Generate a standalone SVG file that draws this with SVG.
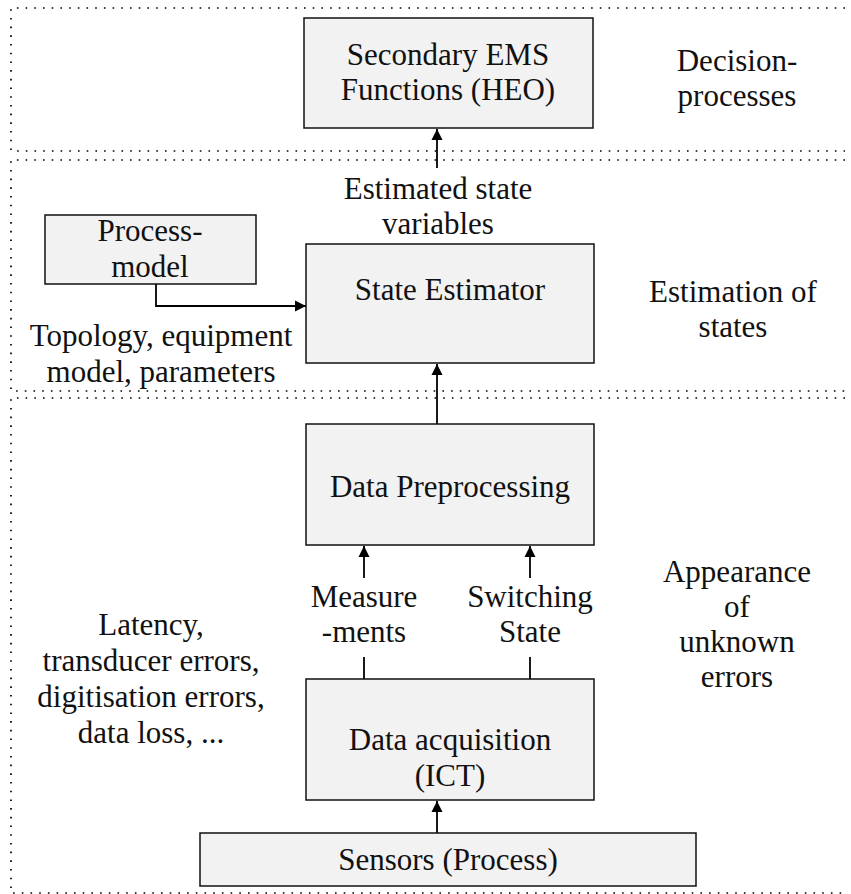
<svg xmlns="http://www.w3.org/2000/svg" width="851" height="894" viewBox="0 0 851 894" font-family="Liberation Serif, Times New Roman, serif">
<style>
.zone{fill:none;stroke:#000;stroke-width:1.7;stroke-dasharray:1.6 7.1}
.box{fill:#f2f2f2;stroke:#111;stroke-width:1.5}
text{font-family:'Liberation Serif',serif;font-size:31px;fill:#111;text-anchor:middle}
.c{fill:none;stroke:#000;stroke-width:1.8}
</style>
<defs>
<marker id="ah" markerWidth="12" markerHeight="12" refX="11" refY="6" orient="auto" markerUnits="userSpaceOnUse">
<path d="M0,0.5 L11,6 L0,11.5 Z" fill="#000"/>
</marker>
</defs>
<g id="zones">
<path class="zone" d="M845,8 H11 V151 H845"/>
<path class="zone" d="M845,160 H11 V391 H845"/>
<path class="zone" d="M845,398 H11 V893 H845"/>
</g>
<g id="zone-labels" font-family="Liberation Serif">
<text x="737" y="71">Decision-</text>
<text x="737" y="106">processes</text>
<text x="733" y="302">Estimation of</text>
<text x="733" y="337">states</text>
<text x="737" y="582">Appearance</text>
<text x="737" y="617">of</text>
<text x="737" y="652">unknown</text>
<text x="737" y="687">errors</text>
</g>
<g id="connectors">
<path class="c" d="M437,168 V129" marker-end="url(#ah)"/>
<path class="c" d="M156,284 V306 H306" marker-end="url(#ah)"/>
<path class="c" d="M437,424 V364" marker-end="url(#ah)"/>
<path class="c" d="M364,578 V546" marker-end="url(#ah)"/>
<path class="c" d="M530,578 V546" marker-end="url(#ah)"/>
<path class="c" d="M364,657 V679"/>
<path class="c" d="M530,657 V679"/>
<path class="c" d="M437,833 V801" marker-end="url(#ah)"/>
</g>
<g id="edge-labels">
<text x="438" y="199">Estimated state</text>
<text x="438" y="234">variables</text>
<text x="364" y="607">Measure</text>
<text x="364" y="642">-ments</text>
<text x="530" y="607">Switching</text>
<text x="530" y="642">State</text>
<text x="161" y="346">Topology, equipment</text>
<text x="161" y="382">model, parameters</text>
<text x="151" y="635">Latency,</text>
<text x="151" y="671">transducer errors,</text>
<text x="151" y="707">digitisation errors,</text>
<text x="151" y="743">data loss, ...</text>
</g>
<g id="secondary-ems">
<rect class="box" x="304" y="18" width="289" height="110"/>
<text x="448" y="65">Secondary EMS</text>
<text x="448" y="100">Functions (HEO)</text>
</g>
<g id="process-model">
<rect class="box" x="45" y="215" width="211" height="69"/>
<text x="150" y="241">Process-</text>
<text x="150" y="277">model</text>
</g>
<g id="state-estimator">
<rect class="box" x="306" y="244" width="288" height="119"/>
<text x="450" y="300">State Estimator</text>
</g>
<g id="data-preprocessing">
<rect class="box" x="306" y="424" width="288" height="121"/>
<text x="450" y="497">Data Preprocessing</text>
</g>
<g id="data-acquisition">
<rect class="box" x="306" y="679" width="288" height="121"/>
<text x="450" y="750">Data acquisition</text>
<text x="450" y="786">(ICT)</text>
</g>
<g id="sensors">
<rect class="box" x="200" y="833" width="496" height="53"/>
<text x="448" y="870">Sensors (Process)</text>
</g>
</svg>
